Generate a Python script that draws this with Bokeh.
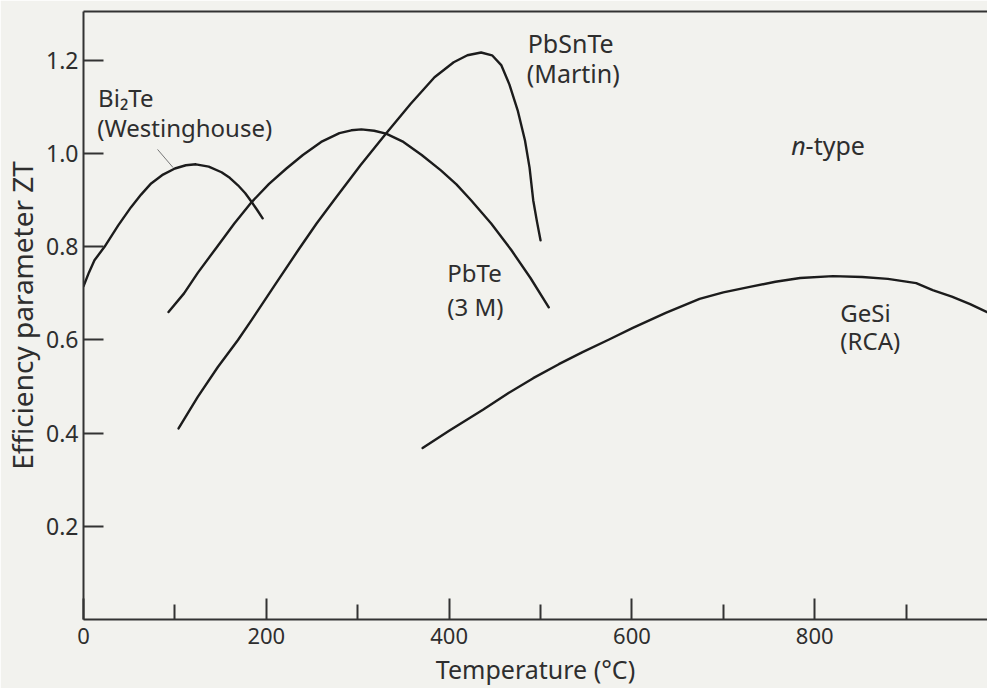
from bokeh.plotting import figure
from bokeh.models import Range1d, FixedTicker, LinearAxis, Label
from bokeh.embed import file_html
from bokeh.resources import INLINE

# ---------------- data ----------------
bi2te_t = [0, 6, 12, 23, 38, 52, 63, 74, 87, 100, 112, 123, 137, 151, 160, 169, 177, 184, 190, 196]
bi2te_zt = [0.715, 0.745, 0.771, 0.80, 0.846, 0.885, 0.912, 0.936, 0.955, 0.968, 0.975, 0.977,
            0.972, 0.96, 0.948, 0.932, 0.915, 0.896, 0.879, 0.861]

pbte_t = [93, 110, 125, 145, 165, 184, 203, 222, 240, 260, 280, 293, 304, 318, 331, 350, 370,
          391, 408, 424, 446, 468, 489, 509]
pbte_zt = [0.66, 0.70, 0.744, 0.797, 0.85, 0.896, 0.935, 0.968, 0.997, 1.025, 1.044, 1.05, 1.052,
           1.049, 1.043, 1.025, 0.997, 0.964, 0.934, 0.90, 0.85, 0.793, 0.733, 0.67]

pbsnte_t = [104, 125, 147, 169, 184, 210, 235, 255, 274, 303, 331, 358, 384, 405, 420, 435, 447,
            457, 466, 475, 483, 488, 492, 496, 500]
pbsnte_zt = [0.41, 0.478, 0.542, 0.60, 0.643, 0.72, 0.793, 0.85, 0.90, 0.975, 1.043, 1.107, 1.164,
             1.196, 1.211, 1.217, 1.211, 1.19, 1.148, 1.093, 1.028, 0.97, 0.90, 0.855, 0.814]

gesi_t = [371, 400, 437, 465, 492, 520, 546, 575, 601, 637, 674, 700, 729, 757, 784, 820, 852,
          880, 911, 929, 950, 970, 988]
gesi_zt = [0.368, 0.405, 0.45, 0.486, 0.518, 0.548, 0.574, 0.601, 0.626, 0.658, 0.688, 0.702,
           0.714, 0.725, 0.733, 0.737, 0.735, 0.731, 0.722, 0.707, 0.693, 0.677, 0.66]

x_major_ticks = [0, 200, 400, 600, 800]
x_minor_ticks = [100, 300, 500, 700, 900]
y_ticks = [0.2, 0.4, 0.6, 0.8, 1.0, 1.2]
y_tick_labels = ["0.2", "0.4", "0.6", "0.8", "1.0", "1.2"]

# leader line from the Westinghouse label to its curve
leader_t = [81, 98]
leader_zt = [1.009, 0.97]

# ---------------- styling ----------------
BG = "#f2f2ee"
INK = "#1c1c1c"
AX = "#333333"
TXT = "#2e2e2e"
FONT = "Noto Sans"

p = figure(width=987, height=688,
           x_range=Range1d(0, 989), y_range=Range1d(0, 1.305),
           output_backend="svg", toolbar_location=None,
           min_border_left=83, min_border_right=0,
           min_border_top=11, min_border_bottom=68)
p.background_fill_color = BG
p.border_fill_color = BG
p.outline_line_color = None
p.grid.visible = False

xa = p.xaxis[0]
xa.ticker = FixedTicker(ticks=x_major_ticks, minor_ticks=x_minor_ticks)
xa.major_tick_in = 21
xa.major_tick_out = 0
xa.minor_tick_in = 15
xa.minor_tick_out = 0
xa.axis_line_width = 2
xa.axis_line_color = AX
xa.major_tick_line_width = 2
xa.major_tick_line_color = AX
xa.minor_tick_line_width = 2
xa.minor_tick_line_color = AX
xa.major_label_text_font = FONT
xa.major_label_text_font_size = "22px"
xa.major_label_text_color = TXT
xa.major_label_standoff = 8
xa.axis_label = "Temperature (°C)"
xa.axis_label_text_font = FONT
xa.axis_label_text_font_size = "25px"
xa.axis_label_text_font_style = "normal"
xa.axis_label_text_color = TXT
xa.axis_label_standoff = 5

ya = p.yaxis[0]
ya.ticker = FixedTicker(ticks=y_ticks)
ya.major_label_overrides = {t: s for t, s in zip(y_ticks, y_tick_labels)}
ya.major_tick_in = 20
ya.major_tick_out = 0
ya.minor_tick_line_color = None
ya.axis_line_width = 2
ya.axis_line_color = AX
ya.major_tick_line_width = 2
ya.major_tick_line_color = AX
ya.major_label_text_font = FONT
ya.major_label_text_font_size = "23px"
ya.major_label_text_color = TXT
ya.major_label_standoff = 5
ya.axis_label = "Efficiency parameter ZT"
ya.axis_label_text_font = FONT
ya.axis_label_text_font_size = "28px"
ya.axis_label_text_font_style = "normal"
ya.axis_label_text_color = TXT
ya.axis_label_standoff = 2

top = LinearAxis(ticker=FixedTicker(ticks=[]), axis_line_width=2,
                 axis_line_color=AX, major_tick_out=0, minor_tick_out=0,
                 major_tick_in=0, minor_tick_in=0, major_label_standoff=0,
                 major_label_text_font_size="0px")
p.add_layout(top, "above")

# ---------------- curves ----------------
for xs, ys in [(bi2te_t, bi2te_zt), (pbte_t, pbte_zt),
               (pbsnte_t, pbsnte_zt), (gesi_t, gesi_zt)]:
    p.line(xs, ys, line_width=2.4, line_color=INK, line_join="round", line_cap="round")

p.line(leader_t, leader_zt, line_width=1, line_color="#777777")

# ---------------- text annotations ----------------
def lab(x, y, text, size="24px", align="left", style="normal", **kw):
    p.add_layout(Label(x=x, y=y, text=text, text_font=FONT, text_font_size=size,
                       text_color=TXT, text_align=align, text_baseline="middle",
                       text_font_style=style, **kw))

lab(16, 1.121, "Bi₂Te")
lab(15, 1.056, "(Westinghouse)")
lab(486, 1.238, "PbSnTe", size="25px")
lab(485, 1.172, "(Martin)", size="25px")
lab(398, 0.744, "PbTe")
lab(398, 0.671, "(3 M)")
lab(828, 0.66, "GeSi")
lab(828, 0.598, "(RCA)")
lab(790, 1.018, "n", size="25px", align="right", style="italic")
lab(790, 1.018, "-type", size="25px")

open("out.html", "w").write(file_html(p, INLINE))
